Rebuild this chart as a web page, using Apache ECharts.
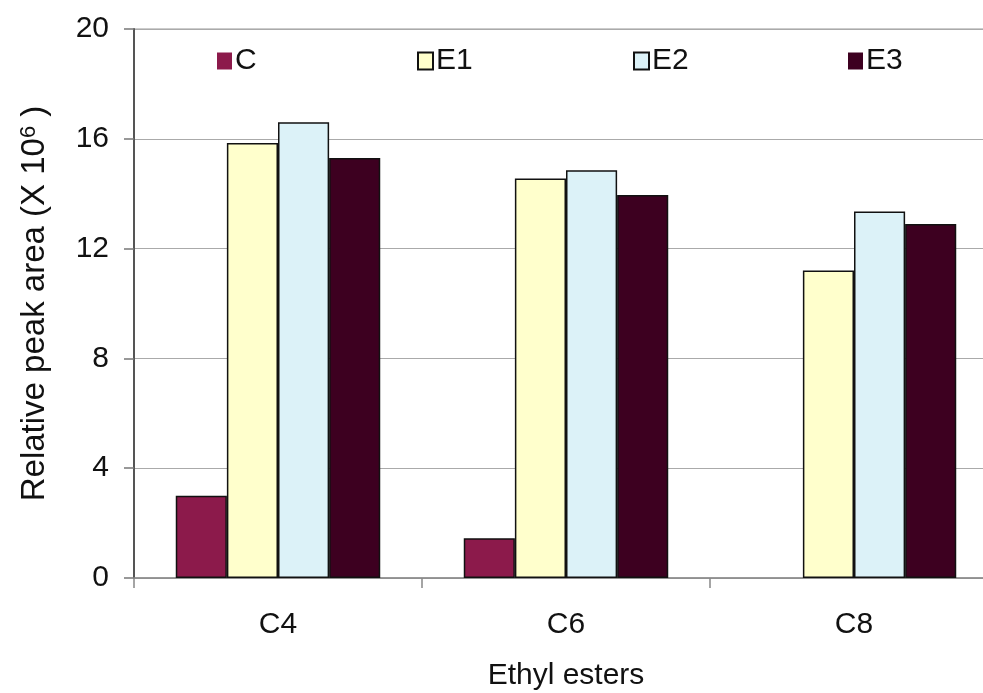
<!DOCTYPE html>
<html>
<head>
<meta charset="utf-8">
<script src="https://cdn.jsdelivr.net/npm/echarts@6/dist/echarts.min.js"></script>
<style>
  html, body { margin: 0; padding: 0; background: #fff; }
  #chart { width: 983px; height: 693px; }
</style>
</head>
<body>
<div id="chart"></div>
<script>
// Ethyl ester peak areas (x 10^6) per treatment
const categories = ['C4', 'C6', 'C8'];
const seriesNames = ['C', 'E1', 'E2', 'E3'];
const valuesC  = [3.0, 1.45, 0];
const valuesE1 = [15.85, 14.55, 11.2];
const valuesE2 = [16.6, 14.85, 13.35];
const valuesE3 = [15.3, 13.95, 12.9];
const yTicks = { min: 0, max: 20, interval: 4 };

const colors = ['#8c1a4b', '#ffffcc', '#dcf2f8', '#3d0020'];
const allValues = [valuesC, valuesE1, valuesE2, valuesE3];
const legendLeft = [217, 417, 633, 848];
const FONT = '"Liberation Sans", Arial, sans-serif';

const chart = echarts.init(document.getElementById('chart'), null, { renderer: 'canvas' });

const series = seriesNames.map((name, i) => ({
  name,
  type: 'bar',
  barGap: '0%',
  barCategoryGap: '29%',
  itemStyle: { color: colors[i], borderColor: '#111', borderWidth: 1.5 },
  // zero-height bars get no outline
  data: allValues[i].map(v => v === 0 ? { value: 0, itemStyle: { borderWidth: 0 } } : v)
}));

const legends = seriesNames.map((name, i) => ({
  data: [name],
  left: legendLeft[i],
  top: 46,
  padding: 0,
  icon: 'rect',
  itemWidth: 15,
  itemHeight: 17,
  itemGap: 0,
  selectedMode: false,
  textStyle: { fontFamily: FONT, fontSize: 30, color: '#111', padding: [0, 0, 0, -2] },
  itemStyle: (name === 'E1' || name === 'E2')
    ? { borderColor: '#111', borderWidth: 2 }
    : { borderWidth: 0 }
}));

chart.setOption({
  animation: false,
  backgroundColor: '#fff',
  legend: legends,
  grid: {
    left: 134, top: 29, width: 864, height: 549,
    outerBoundsMode: 'none',
    containLabel: false,
    show: true, borderColor: '#999', borderWidth: 1
  },
  xAxis: {
    type: 'category',
    data: categories,
    name: 'Ethyl esters',
    nameLocation: 'middle',
    nameGap: 83,
    nameTextStyle: { fontFamily: FONT, fontSize: 30, color: '#111' },
    axisLine: { lineStyle: { color: '#888', width: 1.5 } },
    axisTick: { show: true, length: 10, lineStyle: { color: '#888', width: 1.5 } },
    axisLabel: { margin: 32, fontFamily: FONT, fontSize: 30, color: '#111' }
  },
  yAxis: {
    type: 'value',
    min: yTicks.min, max: yTicks.max, interval: yTicks.interval,
    name: 'Relative peak area (X 10{sup|6} )',
    nameLocation: 'middle',
    nameGap: 82,
    nameTextStyle: {
      fontFamily: FONT, fontSize: 33, color: '#111',
      rich: { sup: { fontFamily: FONT, fontSize: 22, color: '#111', verticalAlign: 'top', padding: [0, 0, 12, 0] } }
    },
    axisLine: { show: true, lineStyle: { color: '#555', width: 2 } },
    axisTick: { show: true, length: 10, lineStyle: { color: '#777', width: 1.5 } },
    axisLabel: { margin: 25, fontFamily: FONT, fontSize: 30, color: '#111' },
    splitLine: { lineStyle: { color: '#aaa', width: 1.2 } }
  },
  series
});
</script>
</body>
</html>
